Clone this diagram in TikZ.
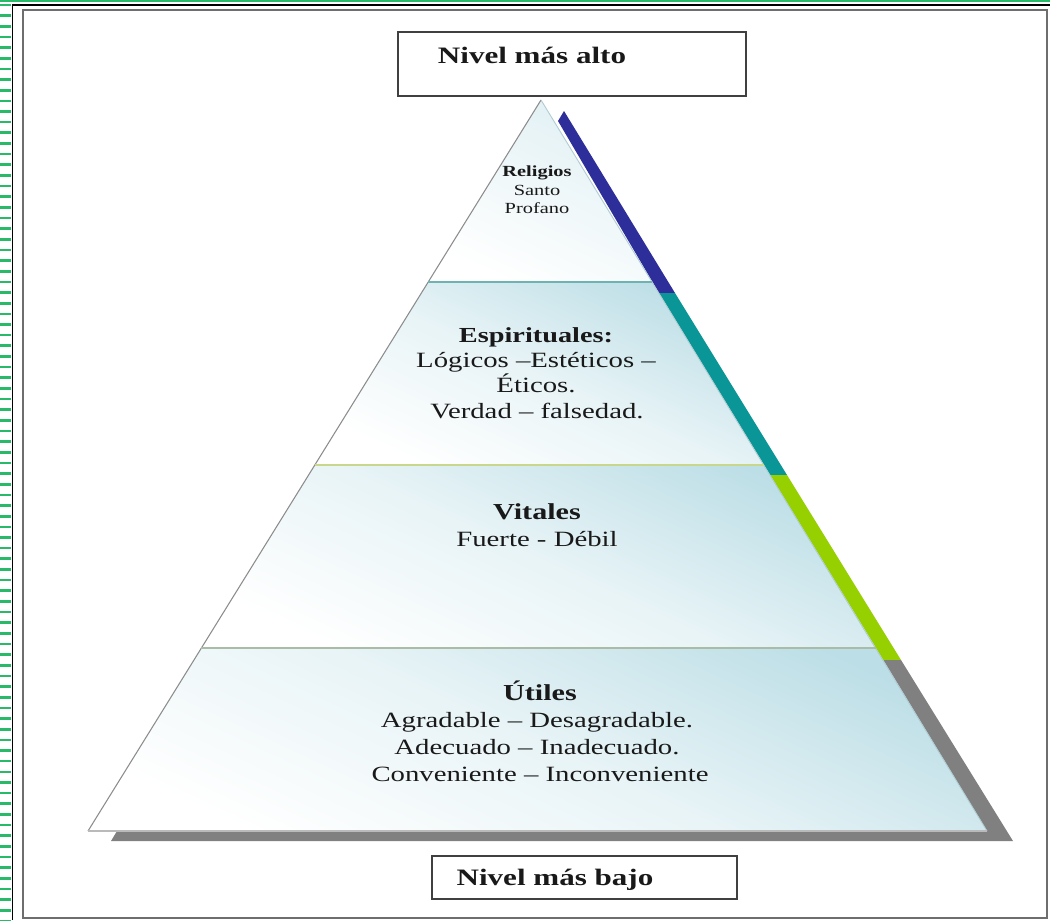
\documentclass[tikz,border=0pt]{standalone}
\usepackage{fontspec}
\setmainfont{Liberation Serif}[FakeStretch=1.32]
\definecolor{framegreen}{RGB}{40,185,105}
\definecolor{framegray}{RGB}{110,110,110}
\definecolor{bandblue}{RGB}{46,46,155}
\definecolor{bandteal}{RGB}{10,150,150}
\definecolor{bandgreen}{RGB}{150,208,0}
\definecolor{bandgray}{RGB}{128,128,128}
\definecolor{pyrcyan}{RGB}{188,222,230}
\definecolor{txtcol}{RGB}{25,25,25}
\definecolor{divone}{RGB}{110,178,178}
\definecolor{divtwo}{RGB}{200,215,140}
\definecolor{divthree}{RGB}{170,188,165}
\definecolor{edgegray}{RGB}{140,140,140}
\tikzset{
  levelfill/.style={top color=pyrcyan, bottom color=white, middle color=pyrcyan!35, shading angle=-25},
  topfill/.style={top color=pyrcyan!45, bottom color=white, shading angle=-25},
  txt/.style={anchor=base, inner sep=0pt, text=txtcol},
  small/.style={txt, font=\fontsize{8.8}{10}\selectfont},
  body/.style={txt, font=\fontsize{12.4}{14}\selectfont},
  head/.style={txt, font=\bfseries\fontsize{12.2}{14}\selectfont},
  boxtxt/.style={txt, font=\bfseries\fontsize{13.4}{15}\selectfont},
  levelbox/.style={draw=black!75, line width=0.9pt, fill=white, inner sep=0pt},
}
\begin{document}
\begin{tikzpicture}[x=0.02cm,y=-0.02cm]
\useasboundingbox (0,0) rectangle (1050,920);
\fill[white] (0,0) rectangle (1050,920);
% outer frame
\draw[framegreen, line width=1.3pt] (0,1) -- (1050,1);
\foreach \i in {0,...,86} \draw[framegreen, line width=1.5pt] (0,{5+10.65*\i}) -- (11,{5+10.65*\i});
\draw[black, line width=1pt] (12.5,920) -- (12.5,5) -- (1050,5);
\draw[framegray, line width=1.6pt] (23,10) rectangle (1047,918);
% pyramid coordinates
\coordinate (A) at (541,100);
\coordinate (L) at (88,831);
\coordinate (R) at (987,831);
\coordinate (l1) at (428,282); \coordinate (r1) at (652,282);
\coordinate (l2) at (315,465); \coordinate (r2) at (764,465);
\coordinate (l3) at (201,648); \coordinate (r3) at (876,648);
% shadow bands
\fill[bandblue] (558,121) -- (564,111) -- (675,293) -- (659,293) -- cycle;
\fill[bandteal] (659,293) -- (675,293) -- (787,475) -- (770,475) -- cycle;
\fill[bandgreen] (770,475) -- (787,475) -- (901,660) -- (883,660) -- cycle;
\fill[bandgray] (883,660) -- (901,660) -- (1013,841) -- (111,841) -- (117,831) -- (R) -- cycle;
% pyramid levels
\shade[topfill] (A) -- (r1) -- (l1) -- cycle;
\shade[levelfill] (l1) -- (r1) -- (r2) -- (l2) -- cycle;
\shade[levelfill] (l2) -- (r2) -- (r3) -- (l3) -- cycle;
\shade[levelfill] (l3) -- (r3) -- (R) -- (L) -- cycle;
% outlines
\draw[edgegray, line width=0.6pt] (L) -- (A);
\draw[pyrcyan!80!gray, line width=0.5pt] (A) -- (R);
\draw[edgegray!60, line width=0.6pt] (L) -- (R);
\draw[divone, line width=1.1pt] (l1) -- (r1);
\draw[divtwo, line width=1.1pt] (l2) -- (r2);
\draw[divthree, line width=1.1pt] (l3) -- (r3);
% boxes
\node[levelbox, minimum width=6.96cm, minimum height=1.28cm] (topbox) at (572,64) {};
\node[boxtxt] (toptext) at (532,63) {Nivel más alto};
\node[levelbox, minimum width=6.1cm, minimum height=0.86cm] (botbox) at (584.5,877.5) {};
\node[boxtxt] (bottext) at (555,885) {Nivel más bajo};
% texts
\node[small, font=\bfseries\fontsize{8.8}{10}\selectfont] (rel) at (537,176) {Religios};
\node[small] (santo) at (537,195) {Santo};
\node[small] (prof) at (537,213) {Profano};
\node[head] (esp) at (536,342) {Espirituales:};
\node[body] (log) at (536,367) {Lógicos –Estéticos –};
\node[body] (eti) at (536,392) {Éticos.};
\node[body] (ver) at (537,418) {Verdad – falsedad.};
\node[head, font=\bfseries\fontsize{13}{15}\selectfont] (vit) at (537,519) {Vitales};
\node[body] (fue) at (537,546) {Fuerte - Débil};
\node[head, font=\bfseries\fontsize{13}{15}\selectfont] (uti) at (540,700) {Útiles};
\node[body] (agr) at (537,727) {Agradable – Desagradable.};
\node[body] (ade) at (537,754) {Adecuado – Inadecuado.};
\node[body] (con) at (540,781) {Conveniente – Inconveniente};
\end{tikzpicture}
\end{document}
